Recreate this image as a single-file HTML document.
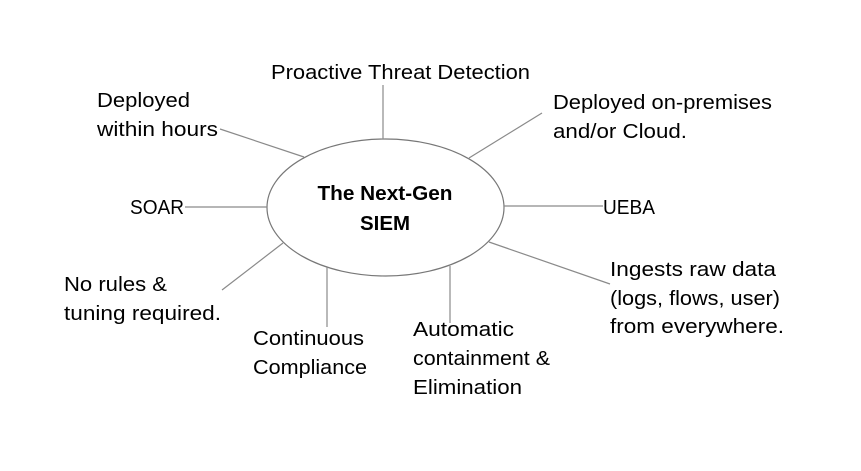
<!DOCTYPE html>
<html><head><style>html,body{margin:0;padding:0;background:#fff}</style></head>
<body>
<svg width="861" height="466" xmlns="http://www.w3.org/2000/svg" font-family="'Liberation Sans', sans-serif" font-size="20" fill="#000">
<g stroke="#8a8a8a" stroke-width="1.2" fill="none">
<ellipse cx="385.5" cy="207.5" rx="118.5" ry="68.5" stroke="#777"/>
<line x1="383" y1="85" x2="383" y2="139"/>
<line x1="220" y1="129" x2="304" y2="157"/>
<line x1="542" y1="113" x2="469" y2="158"/>
<line x1="185" y1="207" x2="267" y2="207"/>
<line x1="504" y1="206" x2="603" y2="206"/>
<line x1="489" y1="242" x2="610" y2="284"/>
<line x1="450" y1="266" x2="450" y2="323"/>
<line x1="327" y1="267" x2="327" y2="327"/>
<line x1="283" y1="243" x2="222" y2="290"/>
</g>
<g lengthAdjust="spacingAndGlyphs">
<text x="271" y="79" textLength="259" lengthAdjust="spacingAndGlyphs">Proactive Threat Detection</text>
<text x="97" y="107" textLength="93" lengthAdjust="spacingAndGlyphs">Deployed</text>
<text x="97" y="136" textLength="121" lengthAdjust="spacingAndGlyphs">within hours</text>
<text x="553" y="109" textLength="219" lengthAdjust="spacingAndGlyphs">Deployed on-premises</text>
<text x="553" y="138" textLength="134" lengthAdjust="spacingAndGlyphs">and/or Cloud.</text>
<text x="130" y="214" textLength="54" lengthAdjust="spacingAndGlyphs">SOAR</text>
<text x="603" y="214" textLength="52" lengthAdjust="spacingAndGlyphs">UEBA</text>
<text x="610" y="276" textLength="166" lengthAdjust="spacingAndGlyphs">Ingests raw data</text>
<text x="610" y="305" textLength="170" lengthAdjust="spacingAndGlyphs">(logs, flows, user)</text>
<text x="610" y="333" textLength="174" lengthAdjust="spacingAndGlyphs">from everywhere.</text>
<text x="64" y="291" textLength="103" lengthAdjust="spacingAndGlyphs">No rules &amp;</text>
<text x="64" y="320" textLength="157" lengthAdjust="spacingAndGlyphs">tuning required.</text>
<text x="253" y="345" textLength="111" lengthAdjust="spacingAndGlyphs">Continuous</text>
<text x="253" y="374" textLength="114" lengthAdjust="spacingAndGlyphs">Compliance</text>
<text x="413" y="336" textLength="101" lengthAdjust="spacingAndGlyphs">Automatic</text>
<text x="413" y="365" textLength="137" lengthAdjust="spacingAndGlyphs">containment &amp;</text>
<text x="413" y="394" textLength="109" lengthAdjust="spacingAndGlyphs">Elimination</text>
<text x="385" y="200" font-weight="bold" text-anchor="middle" textLength="135" lengthAdjust="spacingAndGlyphs">The Next-Gen</text>
<text x="385" y="230" font-weight="bold" text-anchor="middle" textLength="50" lengthAdjust="spacingAndGlyphs">SIEM</text>
</g>
</svg>
</body></html>
